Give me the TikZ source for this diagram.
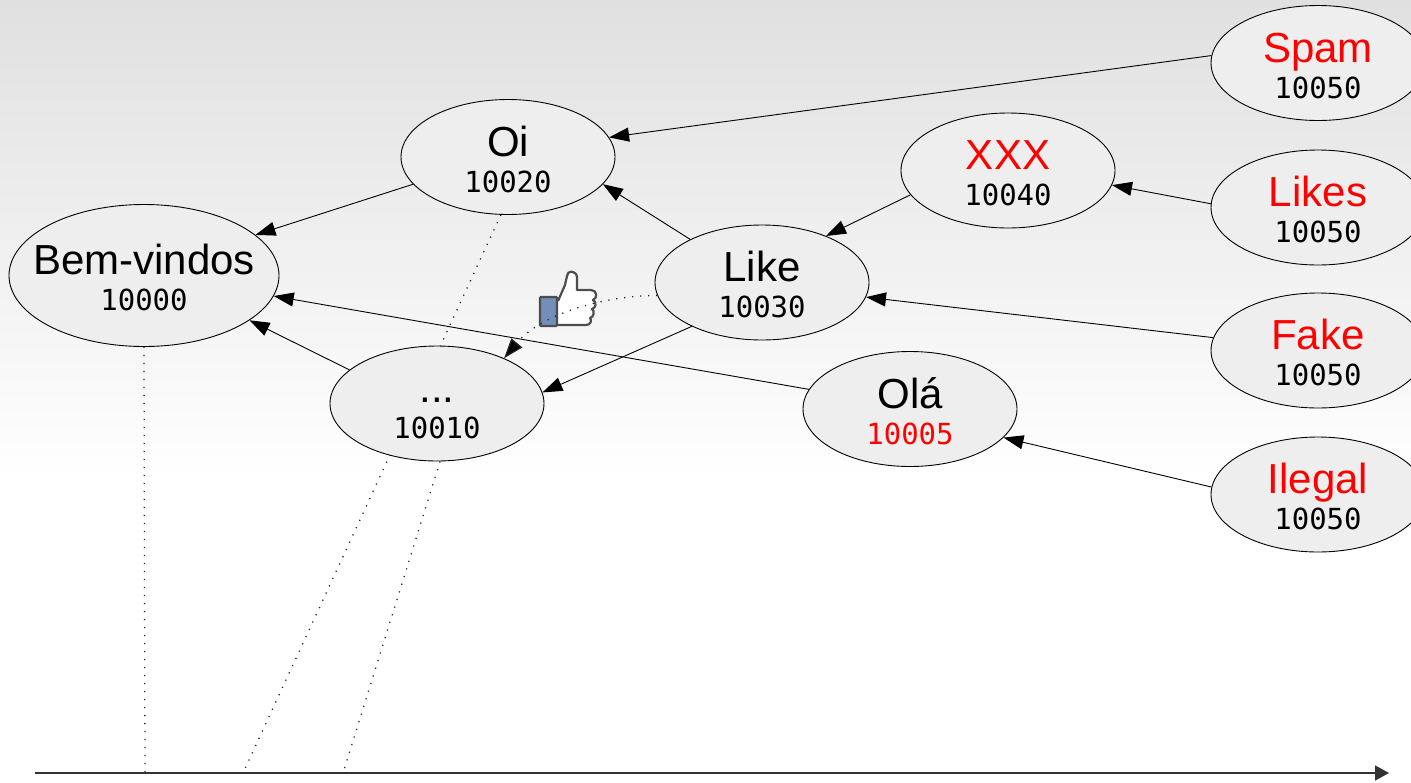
\documentclass[tikz,border=0pt]{standalone}
\usepackage{fontspec}
\usetikzlibrary{arrows.meta,shapes.geometric}
\newfontfamily\mainf{Liberation Sans}
\newfontfamily\monof{DejaVu Sans Mono}
\definecolor{bgtop}{RGB}{224,224,224}
\definecolor{ellfill}{RGB}{238,238,238}
\definecolor{iconblue}{RGB}{114,143,186}
\definecolor{icongray}{RGB}{77,77,77}
\pgfdeclarelayer{bg}
\pgfsetlayers{bg,main}
\newcommand\elab[2]{\vbox{\offinterlineskip
  \hbox to 0pt{\hss\rule{0pt}{34pt}\smash{\mainf\fontsize{42}{42}\selectfont #1}\hss}%
  \hbox to 0pt{\hss\rule{0pt}{36pt}\smash{\monof\fontsize{29}{29}\selectfont #2}\hss}}}
\begin{document}
\begin{tikzpicture}[x=1pt,y=-1pt,
  msg/.style={ellipse, draw=black, line width=0.9pt, fill=ellfill, inner sep=0pt,
    minimum width=214pt, minimum height=115pt},
  edge/.style={line width=0.9pt, -{Triangle[length=20pt,width=14pt]}},
  timeline/.style={line width=1.3pt, black!85, dash pattern=on 1.2pt off 6.8pt},
  link/.style={line width=1.3pt, black!85, dash pattern=on 1.2pt off 6.8pt, -{Triangle[length=20pt,width=14pt,fill=black]}},
  axis/.style={line width=1.6pt, black!80, -{Triangle[length=14pt,width=15pt]}},
  cuff/.style={fill=iconblue, draw=icongray, line width=2.2pt, rounded corners=1pt},
  hand/.style={fill=white, draw=icongray, line width=2.2pt, line join=round},
]
\useasboundingbox (0,0) rectangle (1411,782);
\begin{pgfonlayer}{bg}
  \shade[top color=bgtop, bottom color=white] (0,0) rectangle (1411,480);
  \fill[white] (0,480) rectangle (1411,782);
\end{pgfonlayer}

% nodes
\node[msg, minimum width=270pt, minimum height=142pt] (bem) at (144,275.5) {\elab{Bem-vindos}{10000}};
\node[msg] (oi)  at (508,157)   {\elab{Oi}{10020}};
\node[msg] (dots) at (437,403.5) {\elab{...}{10010}};
\node[msg] (like) at (762,282.5) {\elab{Like}{10030}};
\node[msg] (xxx) at (1008,170.5) {\elab{\color{red}XXX}{10040}};
\node[msg] (ola) at (910,409)   {\elab{Olá}{\color{red}10005}};
\node[msg] (spam) at (1318,63)   {\elab{\color{red}Spam}{10050}};
\node[msg] (likes) at (1318,207.5) {\elab{\color{red}Likes}{10050}};
\node[msg] (fake) at (1318,350.5) {\elab{\color{red}Fake}{10050}};
\node[msg] (ilegal) at (1318,494.5) {\elab{\color{red}Ilegal}{10050}};

% timeline
\coordinate (axL) at (35,773);
\coordinate (axR) at (1389,773);
\coordinate (t0) at (145,773);
\coordinate (t1) at (243,773);
\coordinate (t2) at (343,773);
\draw[axis] (axL) -- (axR);
\begin{pgfonlayer}{bg}
  \draw[timeline] (bem.south) -- (t0);
  \draw[timeline] (oi.263) -- (t1);
  \draw[timeline] (dots.273) -- (t2);
\end{pgfonlayer}

% edges
\draw[edge] (oi.196) -- (bem.20);
\draw[edge] (ola.169.3) -- (bem.351);
\draw[edge] (dots.159.1) -- (bem.337.9);
\draw[edge] (like.149.3) -- (oi.344.2);
\draw[edge] (spam.176.3) -- (oi.11);
\draw[edge] (xxx.194) -- (like.36.5);
\draw[edge] (likes.178.7) -- (xxx.352.8);
\draw[edge] (fake.173.3) -- (like.352.4);
\draw[edge] (ilegal.176.5) -- (ola.343);
\draw[edge] (like.212.8) -- (dots.6.3);

% thumbs-up icon
\draw[hand] (558,301) -- (565,285) -- (567,276)
  .. controls (567,270) and (576,270) .. (577,277) -- (577,290) -- (591,290)
  .. controls (597,290) and (598,298) .. (593,300)
  .. controls (597,302) and (596,308) .. (592,309)
  .. controls (595,311) and (594,317) .. (590,318)
  .. controls (592,320) and (591,325) .. (586,325) -- (558,325);
\draw[cuff] (540,297) rectangle (557,326);

% dotted link through the icon
\draw[link] (like.187.3) .. controls (600,296) and (540,315) .. (dots.34.4);
\end{tikzpicture}
\end{document}
